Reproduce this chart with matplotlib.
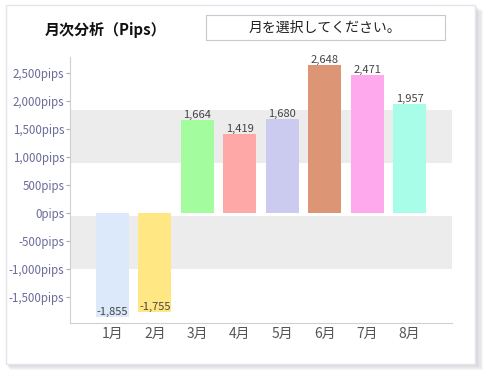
import numpy as np
import matplotlib
matplotlib.use("Agg")
import matplotlib.pyplot as plt
from matplotlib.patches import Rectangle

plt.rcParams['font.family'] = ['Noto Sans CJK JP', 'DejaVu Sans']

months = ['1月', '2月', '3月', '4月', '5月', '6月', '7月', '8月']
pips = [-1855, -1755, 1664, 1419, 1680, 2648, 2471, 1957]
bar_colors = ['#dbe9fb', '#ffe783', '#a3fd9f', '#ffa8a8', '#cacbee',
              '#dc9676', '#fea8ee', '#a8fde9']
yticks = [-1500, -1000, -500, 0, 500, 1000, 1500, 2000, 2500]
bands = [(-1000, -50), (890, 1840)]

fig = plt.figure(figsize=(5.01, 3.85), dpi=100)
fig.patch.set_facecolor('white')

# card with soft shadow
for i in range(6):
    off = 6 - i
    fig.patches.append(Rectangle(((6 + off * 0.6) / 501, 1 - (364 + off) / 385),
                                 (469 + off * 0.8) / 501, 359 / 385,
                                 transform=fig.transFigure, facecolor='#8c8ca0',
                                 alpha=0.07, edgecolor='none', zorder=0))
fig.patches.append(Rectangle((6 / 501, 1 - 364 / 385), 469 / 501, 359 / 385,
                             transform=fig.transFigure, facecolor='white',
                             edgecolor='#e4e4ea', linewidth=1, zorder=1))

# select box
fig.patches.append(Rectangle((206 / 501, 1 - 40 / 385), 239 / 501, 25 / 385,
                             transform=fig.transFigure, facecolor='white',
                             edgecolor='#c8c8d0', linewidth=0.8, zorder=2))
fig.text(325 / 501, 1 - 28 / 385, '月を選択してください。', ha='center', va='center',
         fontsize=10, color='#222222', zorder=3)
fig.text(45 / 501, 1 - 30 / 385, '月次分析（Pips）', ha='left', va='center',
         fontsize=10.8, fontweight='bold', color='#111111', zorder=3)

ax = fig.add_axes([70 / 501, 1 - 323 / 385, 382 / 501, 266 / 385], zorder=4)
ax.set_facecolor('none')
x = np.arange(len(months))
for lo, hi in bands:
    ax.axhspan(lo, hi, color='#ececec', zorder=0, linewidth=0)
ax.bar(x, pips, width=0.78, color=bar_colors, zorder=2)
for xi, v in zip(x, pips):
    ax.text(xi, v, f'{v:,}', ha='center', va='bottom', fontsize=8,
            color='#444444', zorder=3)

ax.set_xlim(-1, 8)
ax.set_ylim(-1960, 2790)
ax.set_xticks(x)
ax.set_xticklabels(months, fontsize=10, color='#555555')
ax.set_yticks(yticks)
ax.set_yticklabels([f'{t:,}pips' for t in yticks], fontsize=8.3, color='#6b6b9b')
ax.tick_params(axis='x', length=0, pad=3)
ax.tick_params(axis='y', length=3, color='#aaaaaa', pad=1)
for s in ['top', 'right']:
    ax.spines[s].set_visible(False)
ax.spines['left'].set_color('#d0d0d0')
ax.spines['bottom'].set_color('#d0d0d0')

fig.savefig('out.png', dpi=100)
